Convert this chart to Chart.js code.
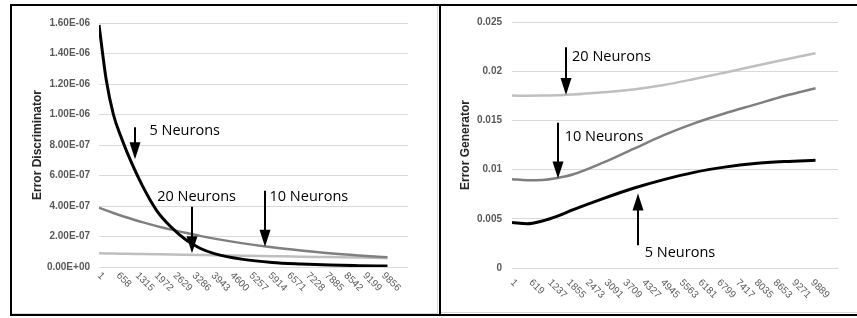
<!DOCTYPE html>
<html>
<head>
<meta charset="utf-8">
<script src="https://cdn.jsdelivr.net/npm/chart.js@4.4.1/dist/chart.umd.min.js"></script>
<style>
  html,body{margin:0;padding:0;background:#fff;overflow:hidden;width:857px;height:318px;}
  #frame{position:absolute;left:10px;top:4px;width:870px;height:308px;border:2px solid #000;}
  #divider{position:absolute;left:439px;top:4px;width:2px;height:312px;background:#000;}
  #p1{position:absolute;left:12px;top:6px;width:425px;height:307px;border-right:1px solid #d9d9d9;border-bottom:1px solid #d9d9d9;}
  #p2{position:absolute;left:441px;top:6px;width:416px;height:306px;border-bottom:1px solid #d9d9d9;}
  canvas{display:block;}
</style>
</head>
<body>
<div id="frame"></div>
<div id="p1"><canvas id="c1" width="425" height="307"></canvas></div>
<div id="p2"><canvas id="c2" width="416" height="306"></canvas></div>
<div id="divider"></div>
<script>
// ---------- Left chart: Error Discriminator ----------
const discIter = [1, 250, 500, 750, 1000, 1500, 2000, 2500, 3000, 3500, 4000, 5000, 6000, 7000, 8000, 9000, 10000];
const disc5  = [1.587e-6, 1.23e-6, 1.00e-6, 0.86e-6, 0.74e-6, 0.535e-6, 0.37e-6, 0.262e-6, 0.18e-6, 0.123e-6, 0.088e-6, 0.05e-6, 0.03e-6, 0.02e-6, 0.013e-6, 0.009e-6, 0.006e-6];
const disc10 = [0.389e-6, 0.371e-6, 0.354e-6, 0.338e-6, 0.323e-6, 0.294e-6, 0.268e-6, 0.245e-6, 0.224e-6, 0.204e-6, 0.186e-6, 0.155e-6, 0.129e-6, 0.108e-6, 0.090e-6, 0.076e-6, 0.064e-6];
const disc20 = [0.090e-6, 0.0892e-6, 0.0884e-6, 0.0876e-6, 0.0868e-6, 0.0852e-6, 0.0836e-6, 0.0820e-6, 0.0805e-6, 0.0790e-6, 0.0775e-6, 0.0742e-6, 0.0710e-6, 0.0678e-6, 0.0648e-6, 0.0618e-6, 0.059e-6];
const discXLabels = [1, 658, 1315, 1972, 2629, 3286, 3943, 4600, 5257, 5914, 6571, 7228, 7885, 8542, 9199, 9856];
const discYLabels = ['0.00E+00', '2.00E-07', '4.00E-07', '6.00E-07', '8.00E-07', '1.00E-06', '1.20E-06', '1.40E-06', '1.60E-06'];

// ---------- Right chart: Error Generator ----------
const genIter = [1, 500, 1000, 1500, 2000, 3000, 4000, 5000, 6000, 7000, 8000, 9000, 10000];
const gen5  = [0.00462, 0.00450, 0.00478, 0.00527, 0.00590, 0.00705, 0.00810, 0.00898, 0.00972, 0.01025, 0.01062, 0.01082, 0.01094];
const gen10 = [0.00903, 0.00893, 0.00895, 0.00915, 0.00950, 0.01070, 0.01210, 0.01350, 0.01470, 0.01570, 0.01660, 0.01750, 0.01827];
const gen20 = [0.01752, 0.01751, 0.01752, 0.01756, 0.01762, 0.01785, 0.01815, 0.01860, 0.01920, 0.01985, 0.02052, 0.02118, 0.02183];
const genXLabels = [1, 619, 1237, 1855, 2473, 3091, 3709, 4327, 4945, 5563, 6181, 6799, 7417, 8035, 8653, 9271, 9889];
const genYLabels = ['0', '0.005', '0.01', '0.015', '0.02', '0.025'];

const seriesNames = ['5 Neurons', '10 Neurons', '20 Neurons'];

function pts(xs, ys){ return xs.map((x,i)=>({x:x, y:ys[i]})); }

const xLabelPlugin = {
  id: 'xlabels',
  afterDraw(chart, args, opts){
    const sx = chart.scales.x, ctx = chart.ctx;
    ctx.save();
    ctx.font = '10px "Liberation Sans", Arial, sans-serif';
    ctx.fillStyle = '#595959';
    ctx.textAlign = 'left';
    ctx.textBaseline = 'middle';
    opts.labels.forEach(v => {
      const x = sx.getPixelForValue(v);
      ctx.save();
      ctx.translate(x, chart.chartArea.bottom + opts.offset);
      ctx.rotate(Math.PI/4);
      ctx.fillText(String(v), 0, 0);
      ctx.restore();
    });
    ctx.restore();
  }
};

const arrowPlugin = {
  id: 'arrows',
  afterDatasetsDraw(chart, args, opts){
    const sx = chart.scales.x, sy = chart.scales.y, ctx = chart.ctx;
    ctx.save();
    opts.items.forEach(a => {
      const x = Math.round(sx.getPixelForValue(a.x));
      const y0 = sy.getPixelForValue(a.from), y1 = sy.getPixelForValue(a.to);
      const dir = Math.sign(y1 - y0);
      const hl = 17, hw = 11;
      ctx.strokeStyle = '#000'; ctx.fillStyle = '#000'; ctx.lineWidth = 2;
      ctx.beginPath(); ctx.moveTo(x, y0); ctx.lineTo(x, y1 - dir*hl + dir); ctx.stroke();
      ctx.beginPath(); ctx.moveTo(x, y1); ctx.lineTo(x - hw/2, y1 - dir*hl); ctx.lineTo(x + hw/2, y1 - dir*hl); ctx.closePath(); ctx.fill();
      ctx.font = '14.5px "Open Sans", sans-serif';
      ctx.textAlign = 'left'; ctx.textBaseline = 'middle';
      ctx.fillStyle = '#000';
      ctx.fillText(a.text, sx.getPixelForValue(a.tx), sy.getPixelForValue(a.ty));
    });
    ctx.restore();
  }
};

function makeChart(id, o){
  const colors = ['#000000', '#7f7f7f', '#bfbfbf'];
  const widths = [3, 2.5, 2.5];
  return new Chart(document.getElementById(id), {
    type: 'line',
    data: {
      datasets: o.series.map((s,i)=>({
        label: seriesNames[i],
        data: pts(o.xs, s),
        borderColor: colors[i],
        borderWidth: widths[i],
        pointRadius: 0,
        fill: false,
        cubicInterpolationMode: 'monotone'
      }))
    },
    options: {
      responsive: false,
      animation: false,
      events: [],
      layout: { padding: o.padding },
      plugins: {
        legend: { display: false },
        tooltip: { enabled: false },
        xlabels: { labels: o.xLabels, offset: o.xLabelOffset },
        arrows: { items: o.arrows }
      },
      scales: {
        x: {
          type: 'linear',
          min: 1, max: o.xMax,
          grid: { display: false },
          border: { display: false },
          ticks: { display: false },
          afterFit(scale){ scale.height = o.xHeight; }
        },
        y: {
          min: 0, max: o.yMax,
          ticks: {
            stepSize: o.yStep,
            padding: o.tickPad,
            color: '#595959',
            font: { family: '"Liberation Sans", Arial, sans-serif', size: 10, weight: 'bold' },
            callback: (v, i) => o.yLabels[i]
          },
          grid: { color: '#d9d9d9', lineWidth: 1, drawTicks: false },
          border: { display: false },
          title: {
            display: true,
            text: o.yTitle,
            color: '#262626',
            font: { family: '"Liberation Sans", Arial, sans-serif', size: 12, weight: 'bold' },
            padding: { top: o.titlePad, bottom: 0 }
          },
          afterFit(scale){ scale.width = o.yWidth; }
        }
      }
    },
    plugins: [xLabelPlugin, arrowPlugin]
  });
}

makeChart('c1', {
  xs: discIter, series: [disc5, disc10, disc20],
  xMax: 10712, yMax: 1.6e-6, yStep: 2e-7, yLabels: discYLabels, xLabels: discXLabels,
  yTitle: 'Error Discriminator', yWidth: 87, xHeight: 46, tickPad: 9, titlePad: 18,
  padding: { top: 17, right: 29, left: 0, bottom: 0 }, xLabelOffset: 7,
  arrows: [
    { text: '5 Neurons',  x: 1266, from: 0.916e-6, to: 0.706e-6, tx: 1751, ty: 0.894e-6 },
    { text: '20 Neurons', x: 3231, from: 0.395e-6, to: 0.090e-6, tx: 2018, ty: 0.459e-6 },
    { text: '10 Neurons', x: 5738, from: 0.500e-6, to: 0.133e-6, tx: 5911, ty: 0.459e-6 }
  ]
});

makeChart('c2', {
  xs: genIter, series: [gen5, gen10, gen20],
  xMax: 10740, yMax: 0.025, yStep: 0.005, yLabels: genYLabels, xLabels: genXLabels,
  yTitle: 'Error Generator', yWidth: 71, xHeight: 44, tickPad: 10, titlePad: 17,
  padding: { top: 16, right: 19, left: 0, bottom: 0 }, xLabelOffset: 13,
  arrows: [
    { text: '20 Neurons', x: 1791, from: 0.02244, to: 0.01759, tx: 1979, ty: 0.02149 },
    { text: '10 Neurons', x: 1518, from: 0.01477, to: 0.0091,  tx: 1735, ty: 0.01328 },
    { text: '5 Neurons',  x: 4155, from: 0.00231, to: 0.00758, tx: 4373, ty: 0.00157 }
  ]
});
</script>
</body>
</html>
